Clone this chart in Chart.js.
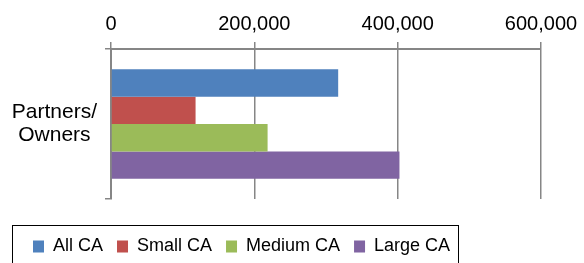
<!DOCTYPE html>
<html>
<head>
<meta charset="utf-8">
<script src="https://cdn.jsdelivr.net/npm/chart.js@4/dist/chart.umd.min.js"></script>
<style>
  html, body { margin: 0; padding: 0; background: #fff; }
  #wrap { width: 584px; height: 263px; }
</style>
</head>
<body>
<div id="wrap"><canvas id="chart"></canvas></div>
<script>
// data
const categories = [['Partners/', 'Owners']];
const seriesNames = ['All CA', 'Small CA', 'Medium CA', 'Large CA'];
const seriesColors = ['#4F81BD', '#C0504D', '#9BBB59', '#8064A2'];
const allCA = [317000];
const smallCA = [118000];
const mediumCA = [218500];
const largeCA = [402500];
const tickValues = [0, 200000, 400000, 600000];

const seriesValues = [allCA, smallCA, mediumCA, largeCA];
const axisGrey = '#868686';

// nudge the legend right a bit, the way it sits in the original
const legendShift = {
  id: 'legendShift',
  afterLayout(chart) {
    if (!chart.legend) return;
    chart.legend.left += 10;
    chart.legend.right += 10;
  },
};

// Excel-style box round the legend
const legendFrame = {
  id: 'legendFrame',
  afterDraw(chart) {
    const boxes = chart.legend && chart.legend.legendHitBoxes;
    if (!boxes || !boxes.length) return;
    const first = boxes[0];
    const last = boxes[boxes.length - 1];
    const left = Math.round(first.left - 21) + 0.5;
    const top = Math.round(first.top - 12.5) + 0.5;
    const right = Math.round(last.left + last.width + 8) + 0.5;
    const ctx = chart.ctx;
    ctx.save();
    ctx.strokeStyle = '#000';
    ctx.lineWidth = 1;
    ctx.strokeRect(left, top, right - left, 60);
    ctx.restore();
  },
};

new Chart(document.getElementById('chart'), {
  type: 'bar',
  data: {
    labels: categories,
    datasets: seriesNames.map((name, i) => ({
      label: name,
      data: seriesValues[i],
      backgroundColor: seriesColors[i],
      borderWidth: 0,
      barPercentage: 1,
      categoryPercentage: 0.73,
    })),
  },
  options: {
    indexAxis: 'y',
    responsive: true,
    maintainAspectRatio: false,
    animation: false,
    layout: { padding: { left: 9, right: 43, top: 0, bottom: -2.5 } },
    plugins: {
      tooltip: { enabled: false },
      legend: {
        position: 'bottom',
        align: 'start',
        title: {
          display: true,
          text: ' ',
          color: 'rgba(0,0,0,0)',
          font: { size: 10, lineHeight: 1 },
          padding: { top: 14.5, bottom: 0 },
        },
        labels: {
          boxWidth: 11,
          boxHeight: 12,
          padding: 14,
          color: '#000',
          font: { family: "'Liberation Sans Narrow', 'Liberation Sans', Arial, sans-serif", size: 18 },
        },
      },
    },
    scales: {
      x: {
        position: 'top',
        min: 0,
        max: 600000,
        afterBuildTicks(scale) {
          scale.ticks = tickValues.map((v) => ({ value: v }));
        },
        afterFit(scale) {
          scale.height = 49;
        },
        ticks: {
          padding: 6,
          color: '#000',
          font: { family: "'Liberation Sans', Arial, sans-serif", size: 20 },
          callback: (v) => Number(v).toLocaleString('en-US'),
        },
        grid: { color: axisGrey, lineWidth: 1.5, tickLength: 7 },
        border: { color: axisGrey, width: 2 },
      },
      y: {
        afterFit(scale) {
          scale.width = 102;
        },
        ticks: {
          padding: 8,
          crossAlign: 'center',
          color: '#000',
          font: { family: "'Liberation Sans', Arial, sans-serif", size: 21, lineHeight: 1.1 },
        },
        grid: { offset: true, drawOnChartArea: false, color: axisGrey, lineWidth: 1.5, tickLength: 6 },
        border: { color: axisGrey, width: 2 },
      },
    },
  },
  plugins: [legendShift, legendFrame],
});
</script>
</body>
</html>
